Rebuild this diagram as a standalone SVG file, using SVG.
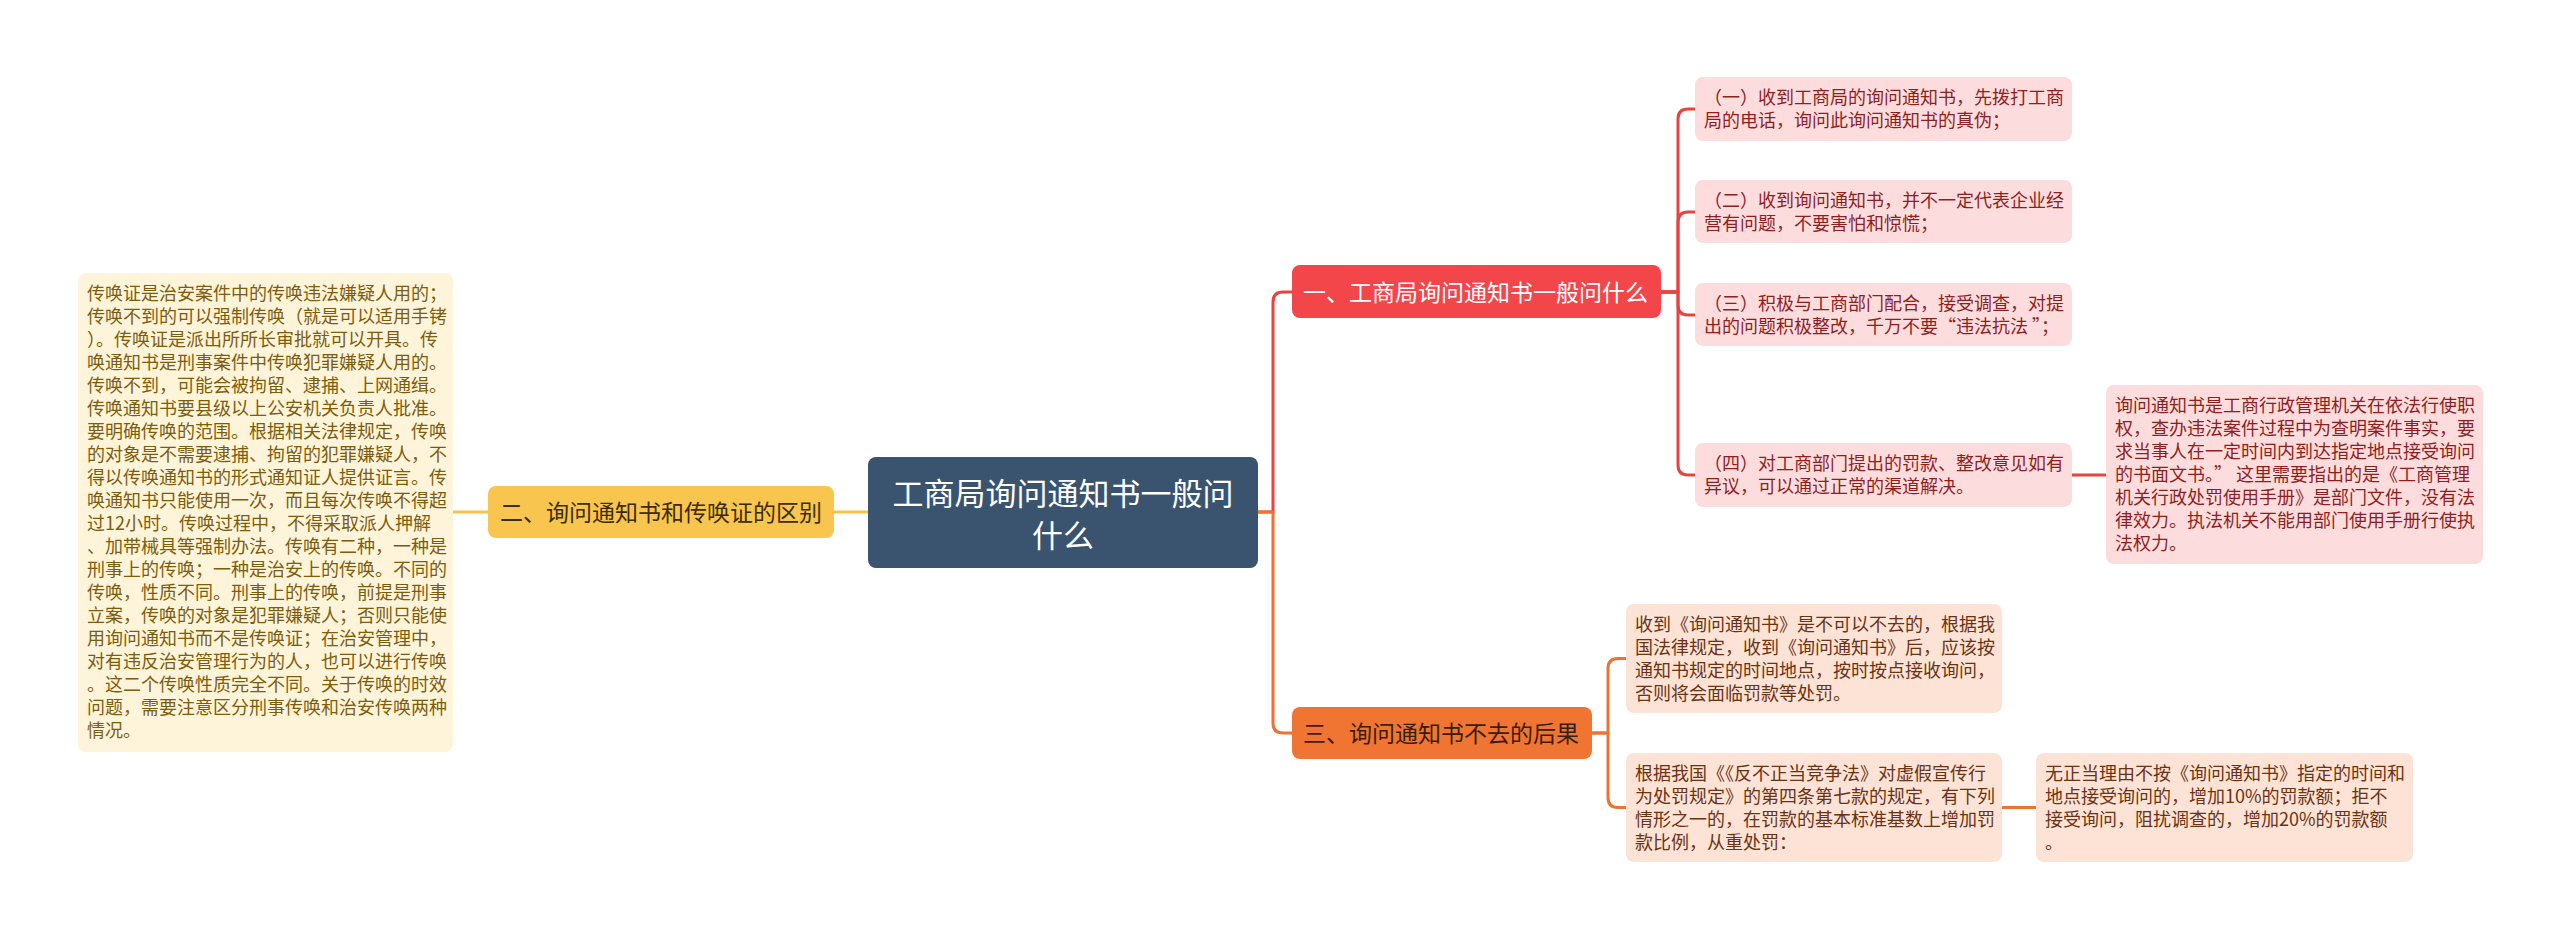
<svg xmlns="http://www.w3.org/2000/svg" width="2560" height="940" viewBox="0 0 2560 940" xml:lang="zh-CN">
<style>
text{font-family:"Noto Sans CJK SC","Noto Sans",sans-serif;}
.n18{font-size:18px;}
.n23{font-size:23px;}
.c{fill:none;stroke-width:3;stroke-linejoin:round;stroke-linecap:round;}
.cr{stroke:#e8433f;}
.co{stroke:#ec7330;}
.cy{stroke:#f3c24f;}
.pink rect{fill:#fcdcdc;}
.pink text{fill:#8f1e1e;}
.peach rect{fill:#fce3d5;}
.peach text{fill:#6b3213;}
.cream rect{fill:#fef4da;}
.cream text{fill:#7d5c0c;}
</style>
<rect width="2560" height="940" fill="#ffffff"/>
<g id="connectors">
<path class="c cy" d="M868,512 H834"/>
<path class="c cy" d="M488,512 H453"/>
<path class="c cr" d="M1258,512 H1273 V302 Q1273,292 1283,292 H1292"/>
<path class="c co" d="M1258,512 H1273 V723 Q1273,733 1283,733 H1292"/>
<path class="c cr" d="M1661,292 H1678 V119 Q1678,109 1688,109 H1695"/>
<path class="c cr" d="M1661,292 H1678 V222 Q1678,212 1688,212 H1695"/>
<path class="c cr" d="M1661,292 H1678 V305 Q1678,315 1688,315 H1695"/>
<path class="c cr" d="M1661,292 H1678 V465 Q1678,475 1688,475 H1695"/>
<path class="c cr" d="M2072,475 H2106"/>
<path class="c co" d="M1592,733 H1608 V668.5 Q1608,658.5 1618,658.5 H1626"/>
<path class="c co" d="M1592,733 H1608 V797.5 Q1608,807.5 1618,807.5 H1626"/>
<path class="c co" d="M2002,807.5 H2036"/>
</g>
<g id="center">
<rect x="868" y="457" width="390" height="111" rx="8" fill="#3a5470"/>
<text x="1063" y="505" text-anchor="middle" font-size="31" fill="#ffffff">工商局询问通知书一般问</text>
<text x="1063" y="547" text-anchor="middle" font-size="31" fill="#ffffff">什么</text>
</g>
<g id="node-yellow">
<rect x="488" y="486" width="346" height="52" rx="8" fill="#f8c54e"/>
<text class="n23" x="500" y="521" fill="#3d2c06">二、询问通知书和传唤证的区别</text>
</g>
<g id="note-left" class="cream n18">
<rect x="78" y="273" width="375" height="479" rx="8"/>
<text x="87" y="300">传唤证是治安案件中的传唤违法嫌疑人用的；</text>
<text x="87" y="323">传唤不到的可以强制传唤（就是可以适用手铐</text>
<text x="87" y="346">）。传唤证是派出所所长审批就可以开具。传</text>
<text x="87" y="369">唤通知书是刑事案件中传唤犯罪嫌疑人用的。</text>
<text x="87" y="392">传唤不到，可能会被拘留、逮捕、上网通缉。</text>
<text x="87" y="415">传唤通知书要县级以上公安机关负责人批准。</text>
<text x="87" y="438">要明确传唤的范围。根据相关法律规定，传唤</text>
<text x="87" y="461">的对象是不需要逮捕、拘留的犯罪嫌疑人，不</text>
<text x="87" y="484">得以传唤通知书的形式通知证人提供证言。传</text>
<text x="87" y="507">唤通知书只能使用一次，而且每次传唤不得超</text>
<text x="87" y="530">过12小时。传唤过程中，不得采取派人押解</text>
<text x="87" y="553">、加带械具等强制办法。传唤有二种，一种是</text>
<text x="87" y="576">刑事上的传唤；一种是治安上的传唤。不同的</text>
<text x="87" y="599">传唤，性质不同。刑事上的传唤，前提是刑事</text>
<text x="87" y="622">立案，传唤的对象是犯罪嫌疑人；否则只能使</text>
<text x="87" y="645">用询问通知书而不是传唤证；在治安管理中，</text>
<text x="87" y="668">对有违反治安管理行为的人，也可以进行传唤</text>
<text x="87" y="691">。这二个传唤性质完全不同。关于传唤的时效</text>
<text x="87" y="714">问题，需要注意区分刑事传唤和治安传唤两种</text>
<text x="87" y="737">情况。</text>
</g>
<g id="node-red">
<rect x="1292" y="265" width="369" height="53" rx="8" fill="#f2464b"/>
<text class="n23" x="1303" y="301" fill="#ffffff">一、工商局询问通知书一般问什么</text>
</g>
<g id="node-orange">
<rect x="1292" y="707" width="300" height="52" rx="8" fill="#f07432"/>
<text class="n23" x="1303" y="742" fill="#3a1d0d">三、询问通知书不去的后果</text>
</g>
<g id="pink-1" class="pink n18">
<rect x="1695" y="77" width="377" height="64" rx="8"/>
<text x="1704" y="104">（一）收到工商局的询问通知书，先拨打工商</text>
<text x="1704" y="127">局的电话，询问此询问通知书的真伪；</text>
</g>
<g id="pink-2" class="pink n18">
<rect x="1695" y="180" width="377" height="63" rx="8"/>
<text x="1704" y="207">（二）收到询问通知书，并不一定代表企业经</text>
<text x="1704" y="230">营有问题，不要害怕和惊慌；</text>
</g>
<g id="pink-3" class="pink n18">
<rect x="1695" y="283" width="377" height="63" rx="8"/>
<text x="1704" y="310">（三）积极与工商部门配合，接受调查，对提</text>
<text x="1704" y="333">出的问题积极整改，千万不要“违法抗法 ”；</text>
</g>
<g id="pink-4" class="pink n18">
<rect x="1695" y="443" width="377" height="64" rx="8"/>
<text x="1704" y="470">（四）对工商部门提出的罚款、整改意见如有</text>
<text x="1704" y="493">异议，可以通过正常的渠道解决。</text>
</g>
<g id="pink-note" class="pink n18">
<rect x="2106" y="385" width="377" height="179" rx="8"/>
<text x="2115" y="412">询问通知书是工商行政管理机关在依法行使职</text>
<text x="2115" y="435">权，查办违法案件过程中为查明案件事实，要</text>
<text x="2115" y="458">求当事人在一定时间内到达指定地点接受询问</text>
<text x="2115" y="481">的书面文书。” 这里需要指出的是《工商管理</text>
<text x="2115" y="504">机关行政处罚使用手册》是部门文件，没有法</text>
<text x="2115" y="527">律效力。执法机关不能用部门使用手册行使执</text>
<text x="2115" y="550">法权力。</text>
</g>
<g id="peach-1" class="peach n18">
<rect x="1626" y="604" width="376" height="109" rx="8"/>
<text x="1635" y="631">收到《询问通知书》是不可以不去的，根据我</text>
<text x="1635" y="654">国法律规定，收到《询问通知书》后，应该按</text>
<text x="1635" y="677">通知书规定的时间地点，按时按点接收询问，</text>
<text x="1635" y="700">否则将会面临罚款等处罚。</text>
</g>
<g id="peach-2" class="peach n18">
<rect x="1626" y="753" width="376" height="109" rx="8"/>
<text x="1635" y="780">根据我国《《反不正当竞争法》对虚假宣传行</text>
<text x="1635" y="803">为处罚规定》的第四条第七款的规定，有下列</text>
<text x="1635" y="826">情形之一的，在罚款的基本标准基数上增加罚</text>
<text x="1635" y="849">款比例，从重处罚：</text>
</g>
<g id="peach-note" class="peach n18">
<rect x="2036" y="753" width="377" height="109" rx="8"/>
<text x="2045" y="780">无正当理由不按《询问通知书》指定的时间和</text>
<text x="2045" y="803">地点接受询问的，增加10%的罚款额；拒不</text>
<text x="2045" y="826">接受询问，阻扰调查的，增加20%的罚款额</text>
<text x="2045" y="849">。</text>
</g>
</svg>
